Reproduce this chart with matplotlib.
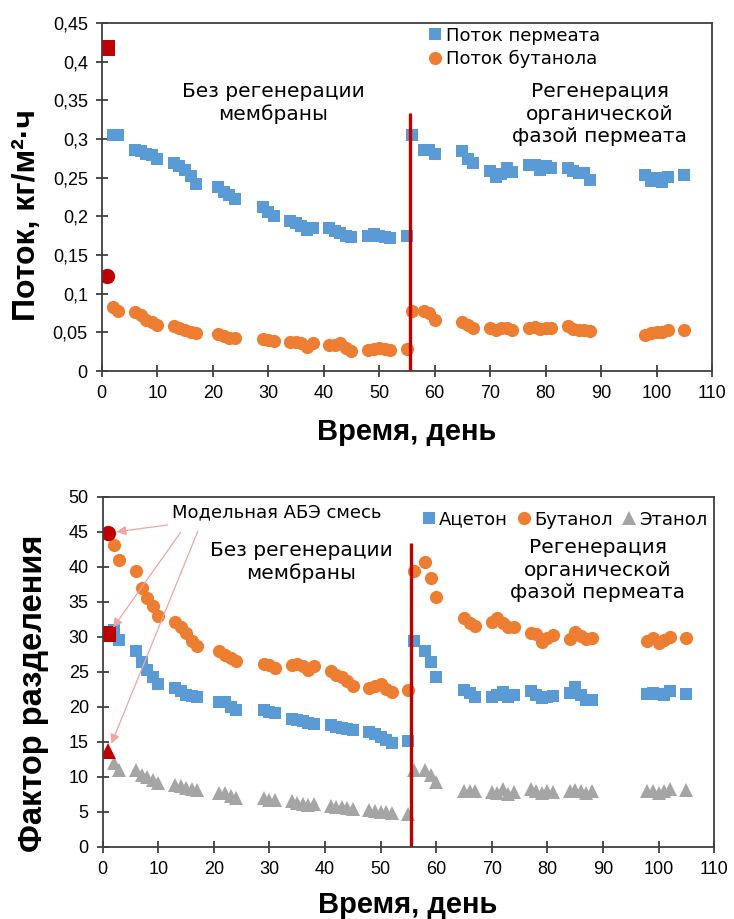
import numpy as np
import matplotlib
matplotlib.use("Agg")
import matplotlib.pyplot as plt

# days of measurement (same for both panels)
days = [2, 3, 6, 7, 8, 9, 10, 13, 14, 15, 16, 17, 21, 22, 23, 24, 29, 30, 31,
        34, 35, 36, 37, 38, 41, 42, 43, 44, 45, 48, 49, 50, 51, 52, 55,
        56, 58, 59, 60, 65, 66, 67, 70, 71, 72, 73, 74, 77, 78, 79, 80, 81,
        84, 85, 86, 87, 88, 98, 99, 100, 101, 102, 105]

# top panel: flux, kg/m2 h
perm_flux = [0.305, 0.305, 0.286, 0.285, 0.281, 0.279, 0.274, 0.269, 0.265, 0.260, 0.252, 0.242,
             0.238, 0.232, 0.228, 0.222, 0.212, 0.205, 0.200,
             0.194, 0.191, 0.188, 0.182, 0.185, 0.185, 0.181, 0.178, 0.175, 0.173,
             0.175, 0.177, 0.174, 0.173, 0.172, 0.175,
             0.305, 0.286, 0.286, 0.281, 0.285, 0.274, 0.269, 0.258, 0.251, 0.255, 0.263, 0.257,
             0.266, 0.267, 0.260, 0.265, 0.263, 0.262, 0.258, 0.256, 0.256, 0.247,
             0.253, 0.246, 0.249, 0.245, 0.251, 0.253]
buoh_flux = [0.083, 0.078, 0.076, 0.072, 0.066, 0.064, 0.060, 0.058, 0.055, 0.053, 0.050, 0.049,
             0.048, 0.045, 0.043, 0.043, 0.041, 0.040, 0.039,
             0.038, 0.037, 0.036, 0.031, 0.036, 0.034, 0.033, 0.036, 0.030, 0.026,
             0.027, 0.029, 0.030, 0.028, 0.027, 0.028,
             0.077, 0.077, 0.075, 0.066, 0.064, 0.060, 0.055, 0.055, 0.053, 0.055, 0.055, 0.053,
             0.056, 0.057, 0.054, 0.056, 0.055, 0.058, 0.054, 0.053, 0.053, 0.052,
             0.047, 0.049, 0.050, 0.051, 0.053, 0.053]
model_day = 1
model_perm_flux = 0.418
model_buoh_flux = 0.123

# bottom panel: separation factor
acetone = [31.0, 29.5, 27.9, 26.4, 25.2, 24.3, 23.2, 22.6, 22.3, 21.7, 21.5, 21.4,
           20.6, 20.6, 20.0, 19.5, 19.5, 19.3, 19.1,
           18.3, 18.1, 18.0, 17.6, 17.5, 17.4, 17.1, 16.9, 16.8, 16.6,
           16.4, 16.1, 15.7, 15.2, 14.8, 15.1,
           29.4, 27.9, 26.4, 24.3, 22.4, 22.0, 21.4, 21.4, 21.6, 22.1, 21.4, 21.7,
           22.2, 21.7, 21.2, 21.4, 21.5, 22.0, 22.8, 21.7, 21.0, 21.0,
           21.8, 22.0, 21.8, 21.6, 22.3, 21.8]
butanol = [43.1, 41.0, 39.4, 36.9, 35.5, 34.4, 32.9, 32.1, 31.4, 30.5, 29.4, 28.7,
           28.0, 27.4, 26.9, 26.5, 26.1, 25.9, 25.5,
           25.9, 26.1, 25.8, 25.2, 25.8, 25.1, 24.5, 24.2, 23.6, 22.9,
           22.6, 23.0, 23.3, 22.5, 22.1, 22.4,
           39.4, 40.7, 38.3, 35.6, 32.7, 31.9, 31.5, 32.1, 32.6, 32.0, 31.4, 31.4,
           30.5, 30.3, 29.2, 29.8, 30.2, 29.7, 30.7, 30.1, 29.7, 29.8,
           29.4, 29.8, 29.1, 29.5, 30.0, 29.8]
ethanol = [11.9, 11.0, 11.0, 10.2, 10.0, 9.5, 9.1, 8.8, 8.6, 8.4, 8.3, 8.1,
           7.6, 7.7, 7.3, 7.0, 6.9, 6.6, 6.6,
           6.5, 6.2, 6.1, 6.0, 6.1, 5.8, 5.6, 5.6, 5.5, 5.4,
           5.2, 5.1, 5.0, 4.9, 4.8, 4.7,
           11.0, 11.0, 10.2, 9.3, 7.9, 7.9, 7.9, 7.8, 7.7, 8.2, 7.5, 7.8,
           8.3, 7.9, 7.7, 7.9, 7.8, 7.9, 8.1, 7.9, 7.7, 8.0,
           7.9, 7.9, 7.7, 8.0, 8.3, 8.1]
model_acetone = 30.3
model_butanol = 44.8
model_ethanol = 13.6

regen_day = 55.5

x_ticks = list(range(0, 111, 10))
top_yticks = [0, 0.05, 0.1, 0.15, 0.2, 0.25, 0.3, 0.35, 0.4, 0.45]
top_ylabels = ["0", "0,05", "0,1", "0,15", "0,2", "0,25", "0,3", "0,35", "0,4", "0,45"]
bot_yticks = list(range(0, 51, 5))

BLUE = "#5B9BD5"
ORANGE = "#ED7D31"
GRAY = "#A5A5A5"
RED = "#C00000"
ARROW = "#F2A3A3"

W, H = 734, 919
tick_font = dict(family="Liberation Sans", size=13)
txt_font = dict(family="DejaVu Sans", size=14.5)

fig = plt.figure(figsize=(W / 100, H / 100), dpi=100)


def px(x, y):
    return x / W, 1 - y / H


def style_axes(ax):
    ax.set_xlim(0, 110)
    ax.set_xticks(x_ticks)
    ax.set_xticklabels([str(t) for t in x_ticks], **tick_font)
    for s in ax.spines.values():
        s.set_color("#404040")
        s.set_linewidth(1.3)
    ax.tick_params(direction="inout", length=8, width=1.3, color="#404040", pad=6)


# ---- top panel
ax1 = fig.add_axes([0.1386, 0.5963, 0.8315, 0.3787])
ax1.plot(days, perm_flux, "s", color=BLUE, ms=9, mew=0, label="Поток пермеата")
ax1.plot(days, buoh_flux, "o", color=ORANGE, ms=9.5, mew=0, label="Поток бутанола")
ax1.plot([model_day], [model_perm_flux], "s", color=RED, ms=11, mew=0)
ax1.plot([model_day], [model_buoh_flux], "o", color=RED, ms=11, mew=0)
ax1.vlines(regen_day, 0, 0.333, color=RED, lw=2.4)
ax1.set_ylim(0, 0.45)
ax1.set_yticks(top_yticks)
ax1.set_yticklabels(top_ylabels, **tick_font)
style_axes(ax1)
ax1.text(30.9, 0.3466, "Без регенерации\nмембраны", ha="center", va="center",
         linespacing=1.25, **txt_font)
ax1.text(89.8, 0.332, "Регенерация\nорганической\nфазой пермеата", ha="center",
         va="center", linespacing=1.25, **txt_font)
ax1.legend(loc="upper left", bbox_to_anchor=(0.52, 1.01), frameon=False,
           prop=dict(family="DejaVu Sans", size=13), handletextpad=0.1,
           handlelength=1.0, labelspacing=0.3, borderaxespad=0)

fig.text(*px(27, 215), "Поток, кг/м²·ч", rotation=90, ha="center", va="center",
         family="Liberation Sans", size=23, weight="bold")
fig.text(*px(407, 432), "Время, день", ha="center", va="center",
         family="Liberation Sans", size=21, weight="bold")

# ---- bottom panel
ax2 = fig.add_axes([0.1399, 0.0787, 0.833, 0.381])
ax2.plot(days, acetone, "s", color=BLUE, ms=9, mew=0, label="Ацетон")
ax2.plot(days, butanol, "o", color=ORANGE, ms=9.5, mew=0, label="Бутанол")
ax2.plot(days, ethanol, "^", color=GRAY, ms=10, mew=0, label="Этанол")
ax2.plot([model_day], [model_butanol], "o", color=RED, ms=11, mew=0)
ax2.plot([model_day], [model_acetone], "s", color=RED, ms=11, mew=0)
ax2.plot([model_day], [model_ethanol], "^", color=RED, ms=12, mew=0)
ax2.vlines(regen_day, 0, 43.3, color=RED, lw=2.4)
ax2.set_ylim(0, 50)
ax2.set_yticks(bot_yticks)
ax2.set_yticklabels([str(t) for t in bot_yticks], **tick_font)
style_axes(ax2)
ax2.text(35.7, 40.7, "Без регенерации\nмембраны", ha="center", va="center",
         linespacing=1.2, **txt_font)
ax2.text(89.1, 39.5, "Регенерация\nорганической\nфазой пермеата", ha="center",
         va="center", linespacing=1.25, **txt_font)
ax2.text(31.3, 47.7, "Модельная АБЭ смесь", ha="center", va="center",
         family="DejaVu Sans", size=13)
arrow = dict(arrowstyle="-|>", color=ARROW, lw=0.9, mutation_scale=14, shrinkB=6)
ax2.annotate("", xy=(model_day, model_butanol), xytext=(12.2, 46.0), arrowprops=arrow)
ax2.annotate("", xy=(model_day, model_acetone), xytext=(14.3, 45.2), arrowprops=arrow)
ax2.annotate("", xy=(model_day, model_ethanol), xytext=(17.3, 45.4), arrowprops=arrow)
ax2.legend(loc="upper right", bbox_to_anchor=(1.0, 0.98), frameon=False, ncol=3,
           prop=dict(family="DejaVu Sans", size=13), handletextpad=0.05,
           handlelength=1.0, columnspacing=0.4, borderaxespad=0)

fig.text(*px(33.5, 693), "Фактор разделения", rotation=90, ha="center", va="center",
         family="Liberation Sans", size=23.5, weight="bold")
fig.text(*px(408, 905), "Время, день", ha="center", va="center",
         family="Liberation Sans", size=21, weight="bold")

fig.savefig("out.png", dpi=100)
